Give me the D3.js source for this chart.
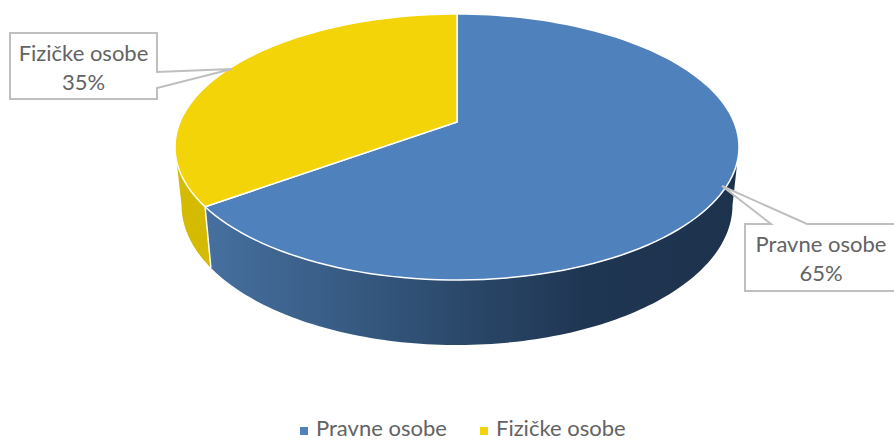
<!DOCTYPE html>
<html>
<head>
<meta charset="utf-8">
<script src="https://cdnjs.cloudflare.com/ajax/libs/d3/7.8.5/d3.min.js"></script>
<style>
  html, body { margin: 0; padding: 0; background: #fff; }
  svg { display: block; }
  text { font-family: Lato, "Open Sans", sans-serif; fill: #636363; }
</style>
</head>
<body>
<svg id="chart" width="894" height="441"></svg>
<script>
var categories = ["Pravne osobe", "Fizičke osobe"];
var shares = [65, 35];
var topColors = ["#4f81bd", "#f2d408"];

var svg = d3.select("#chart");
var defs = svg.append("defs");

// top rim and bottom rim of the disc, tilt moves the centre of the pie off the ellipse centre
var topRim = { cx: 457, cy: 147, rx: 282, ry: 133 };
var lowRim = { cx: 457, cy: 205, rx: 275.5, ry: 140 };
var tilt = 0.188;

var color = d3.scaleOrdinal().domain(categories).range(topColors);

function project(rim, angle) {
    var u = Math.sin(angle), v = Math.cos(angle);
    var w = 1 + tilt * v;
    return [
        rim.cx + rim.rx * u * Math.sqrt(1 - tilt * tilt) / w,
        rim.cy - rim.ry * (v + tilt) / w
    ];
}

function rimPoints(rim, a0, a1) {
    return d3.range(0, 121).map(function(i) {
        return project(rim, a0 + (a1 - a0) * i / 120);
    });
}

var line = d3.line();
var pieData = d3.pie().sort(null).value(function(d) { return d; })(shares);
var rightEdge = Math.PI / 2 + Math.asin(tilt);
var leftEdge = 3 * Math.PI / 2 - Math.asin(tilt);

// gradients for the side wall
var blueGrad = defs.append("linearGradient").attr("id", "sideBlue")
    .attr("gradientUnits", "userSpaceOnUse")
    .attr("x1", 205).attr("x2", 735).attr("y1", 0).attr("y2", 0);
[["0%", "#46709f"], ["30%", "#35587f"], ["50%", "#2a4769"], ["72%", "#1f3652"], ["100%", "#1d324d"]]
    .forEach(function(s) { blueGrad.append("stop").attr("offset", s[0]).attr("stop-color", s[1]); });

var boundary = pieData[0].endAngle;

// side wall of the big slice, from the right edge round the front
svg.append("path")
    .attr("d", line(rimPoints(topRim, rightEdge, boundary).concat(rimPoints(lowRim, boundary, rightEdge))) + "Z")
    .attr("fill", "url(#sideBlue)");

// side wall of the small slice
svg.append("path")
    .attr("d", line(rimPoints(topRim, boundary, leftEdge).concat(rimPoints(lowRim, leftEdge, boundary))) + "Z")
    .attr("fill", "#d5ba02");

// seam between the two walls
svg.append("path")
    .attr("d", line([project(topRim, boundary), project(lowRim, boundary)]))
    .attr("stroke", "#fff").attr("stroke-width", 1.5).attr("fill", "none");

// top face
var apex = [topRim.cx, topRim.cy - topRim.ry * tilt];
svg.selectAll(".slice")
    .data(pieData)
    .enter()
    .append("path")
    .attr("class", "slice")
    .attr("d", function(d) {
        return line([apex].concat(rimPoints(topRim, d.startAngle, d.endAngle))) + "Z";
    })
    .attr("fill", function(d, i) { return color(categories[i]); })
    .attr("stroke", "#fff")
    .attr("stroke-width", 1.5)
    .attr("stroke-linejoin", "round");

// callout labels
var callouts = [
    { i: 1, path: "M10,33H157V72L232,69L157,88V99H10Z", x: 83.5, y: 61 },
    { i: 0, path: "M745,224H771L722,186L807,224H900V291H745Z", x: 821, y: 252 }
];

callouts.forEach(function(c) {
    svg.append("path")
        .attr("d", c.path)
        .attr("fill", "#fff")
        .attr("stroke", "#bfbfbf")
        .attr("stroke-width", 2);
    svg.append("text")
        .attr("x", c.x).attr("y", c.y)
        .attr("text-anchor", "middle")
        .style("font-size", "22px")
        .text(categories[c.i]);
    svg.append("text")
        .attr("x", c.x).attr("y", c.y + 29)
        .attr("text-anchor", "middle")
        .style("font-size", "22px")
        .text(shares[c.i] + "%");
});

// legend, baseline kept just high enough that the text stays inside the page
var legendX = [300, 480];
categories.forEach(function(name, i) {
    svg.append("rect")
        .attr("x", legendX[i]).attr("y", 427)
        .attr("width", 8).attr("height", 8)
        .attr("fill", color(name));
    svg.append("text")
        .attr("x", legendX[i] + 16).attr("y", 436)
        .style("font-size", "22px")
        .text(name);
});
</script>
</body>
</html>
